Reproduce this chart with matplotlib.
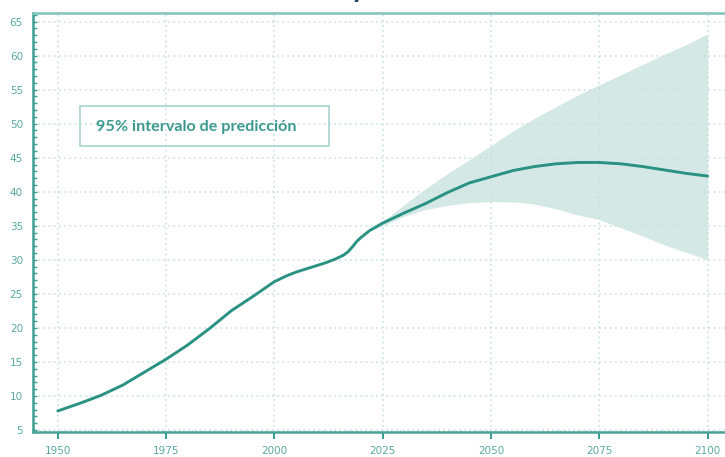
import matplotlib
matplotlib.use("Agg")
import matplotlib.pyplot as plt
from matplotlib.patches import Rectangle
from matplotlib.ticker import MultipleLocator

# Population (millions): estimates and median projection
years = [1950, 1955, 1960, 1965, 1970, 1975, 1980, 1985, 1990, 1995, 2000,
         2003, 2005, 2008, 2010, 2012, 2014, 2016, 2017, 2018, 2019, 2020,
         2021, 2022, 2025, 2030, 2035, 2040, 2045,
         2050, 2055, 2060, 2065, 2070, 2075, 2080, 2085, 2090, 2095, 2100]
population = [7.8, 8.9, 10.1, 11.6, 13.5, 15.4, 17.5, 19.9, 22.5, 24.6, 26.8,
              27.7, 28.2, 28.8, 29.2, 29.6, 30.1, 30.7, 31.2, 31.9, 32.7, 33.3,
              33.8, 34.3, 35.4, 36.9, 38.3, 39.9, 41.3,
              42.2, 43.1, 43.7, 44.1, 44.3, 44.3, 44.1, 43.7, 43.2, 42.7, 42.3]

# 95% prediction interval
band_years = [2022, 2025, 2030, 2035, 2040, 2045, 2050, 2055, 2060, 2065,
              2070, 2075, 2080, 2085, 2090, 2095, 2100]
band_low = [34.3, 35.0, 36.4, 37.4, 38.0, 38.4, 38.55, 38.5, 38.2, 37.5,
            36.6, 35.9, 34.7, 33.5, 32.2, 31.1, 30.0]
band_high = [34.3, 35.7, 38.1, 40.5, 42.7, 44.7, 46.8, 48.9, 50.8, 52.5,
             54.2, 55.7, 57.2, 58.7, 60.2, 61.6, 63.2]

x_ticks = [1950, 1975, 2000, 2025, 2050, 2075, 2100]
y_ticks = [5, 10, 15, 20, 25, 30, 35, 40, 45, 50, 55, 60, 65]
band_label = "95% intervalo de predicción"

W, H = 725, 457
fig = plt.figure(figsize=(W / 100, H / 100), dpi=100)
left, right, top, bottom = 32.7, 725, 12.7, 431.7
ax = fig.add_axes([left / W, 1 - bottom / H, (right - left) / W, (bottom - top) / H])

teal = "#2a9283"
band_col = "#d4e8e6"
tick_col = "#5aa9a0"
grid_col = "#c9e2de"

ax.fill_between(band_years, band_low, band_high, color=band_col, lw=0, zorder=1)
ax.plot(years, population, color=teal, lw=2.1, zorder=3,
        solid_capstyle="round", solid_joinstyle="round")

ax.set_xlim(1944.2, 2104.0)
ax.set_ylim(4.75, 66.3)
ax.set_xticks(x_ticks)
ax.set_yticks(y_ticks)
ax.xaxis.set_minor_locator(MultipleLocator(1))
ax.yaxis.set_minor_locator(MultipleLocator(1))

ax.grid(True, which="major", color=grid_col, linestyle=(0, (1.2, 2.2)), lw=1.1, zorder=0)

ax.spines["right"].set_visible(False)
ax.spines["left"].set_color("#3e9e92")
ax.spines["left"].set_linewidth(1.8)
ax.spines["bottom"].set_color("#4aa297")
ax.spines["bottom"].set_linewidth(1.8)
ax.spines["top"].set_color("#7fc3bb")
ax.spines["top"].set_linewidth(1.8)

ax.tick_params(axis="y", which="both", direction="in", length=3, width=1,
               color="#3e9e92", labelsize=7.5, labelcolor=tick_col, pad=7)
ax.tick_params(axis="x", which="major", direction="out", length=5, width=1.5,
               color="#3e9e92", labelsize=7.5, labelcolor=tick_col, pad=5)
ax.tick_params(axis="x", which="minor", direction="in", length=1.5, width=0.8,
               color="#9ccfc8")

# Caption box for the band
fig.add_artist(Rectangle((80 / W, 1 - 146 / H), 249 / W, 40 / H,
                         transform=fig.transFigure, fill=False,
                         edgecolor="#b3dbd5", lw=1.4))
fig.text(96 / W, 1 - 126.5 / H, band_label, family="Lato", fontweight="bold",
         fontsize=11.6, color="#3a9a8d", va="center", ha="left")

# Title, clipped by the top of the figure
fig.text(352 / W, 1.0 + 1.5 / H, "p", fontsize=15, fontweight="bold", color="#244a66",
         va="baseline", ha="left")

fig.savefig("out.png", dpi=100)
